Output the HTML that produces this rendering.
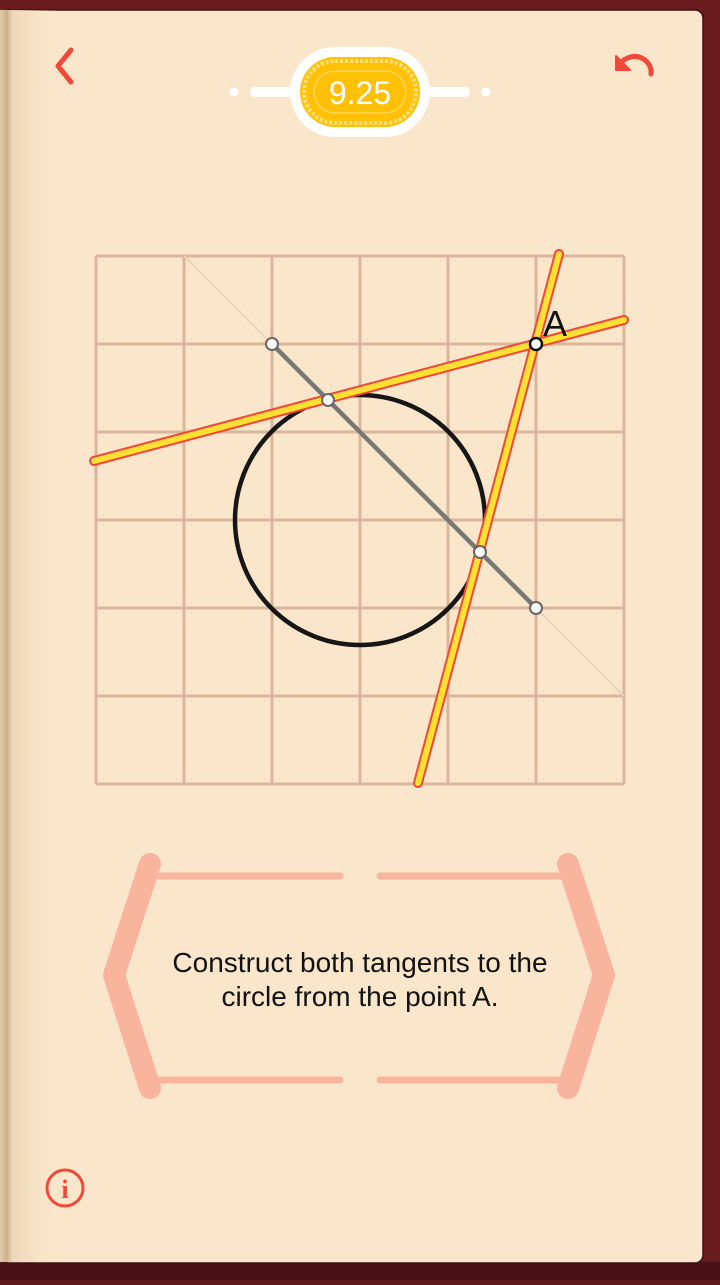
<!DOCTYPE html>
<html><head><meta charset="utf-8"><style>
html,body{margin:0;padding:0;width:720px;height:1280px;overflow:hidden;background:#5e181a;}
#page{position:absolute;left:0;top:0;width:720px;height:1280px;}
</style></head><body>
<div id="page">
<svg width="720" height="1280" viewBox="0 0 720 1280" xmlns="http://www.w3.org/2000/svg">
<defs>
<linearGradient id="bind" x1="0" x2="1" y1="0" y2="0">
<stop offset="0" stop-color="#e2cba8"/><stop offset="0.12" stop-color="#cdb08a"/><stop offset="0.2" stop-color="#ecd6b6"/><stop offset="1" stop-color="#fae6ca" stop-opacity="0"/>
</linearGradient>
</defs>
<rect x="0" y="0" width="720" height="1280" fill="#6a1c1e"/>
<rect x="0" y="1262" width="720" height="18" fill="#4a1214"/>
<rect x="0" y="10" width="703" height="1253" rx="8" fill="#fae6ca" stroke="#3a1010" stroke-width="1.5"/>
<rect x="0" y="10" width="60" height="1252" fill="url(#bind)"/>
<path d="M71 50 L58 66 L71 82" fill="none" stroke="#f0493a" stroke-width="5" stroke-linecap="round" stroke-linejoin="round"/>
<g>
<path d="M621 62 Q634 52 645 60 Q652 66 651 74" fill="none" stroke="#f0493a" stroke-width="5" stroke-linecap="round"/>
<path d="M616 56 L616 70 L630 70 Z" fill="#f0493a" stroke="#f0493a" stroke-width="2" stroke-linejoin="round"/>
</g>
<g>
<circle cx="234" cy="92" r="4.5" fill="#fff"/><circle cx="486" cy="92" r="4.5" fill="#fff"/>
<rect x="250" y="87" width="220" height="10" rx="5" fill="#fff"/>
<rect x="290" y="47" width="140" height="90" rx="45" fill="#fff"/>
<rect x="300" y="57" width="120" height="70" rx="35" fill="#fec107"/>
<rect x="304" y="61" width="112" height="62" rx="31" fill="none" stroke="#ffe07a" stroke-width="4" stroke-dasharray="3 2"/>
<rect x="314" y="71" width="92" height="42" rx="21" fill="none" stroke="#ffe07a" stroke-width="1"/>
<text x="360" y="104" text-anchor="middle" font-family="Liberation Sans, sans-serif" font-size="32" fill="#fff">9.25</text>
</g>
<g id="grid"></g>
<line x1="184" y1="256" x2="624" y2="696" stroke="#ead3b8" stroke-width="2"/>
<circle cx="360" cy="520" r="125" fill="none" stroke="#161616" stroke-width="4.5"/>
<line x1="272" y1="344" x2="536" y2="608" stroke="#777" stroke-width="4.5"/>
<g>
<line x1="94" y1="461" x2="624" y2="320" stroke="#f0483c" stroke-width="10" stroke-linecap="round"/>
<line x1="94" y1="461" x2="624" y2="320" stroke="#ffe033" stroke-width="6" stroke-linecap="round"/>
</g>
<g>
<line x1="418" y1="783" x2="559" y2="254" stroke="#f0483c" stroke-width="10" stroke-linecap="round"/>
<line x1="418" y1="783" x2="559" y2="254" stroke="#ffe033" stroke-width="6" stroke-linecap="round"/>
</g>
<g fill="#fff" stroke="#666" stroke-width="2">
<circle cx="272" cy="344" r="6"/>
<circle cx="536" cy="608" r="6"/>
<circle cx="328" cy="400" r="6"/>
<circle cx="480" cy="552" r="6"/>
</g>
<circle cx="536" cy="344" r="6" fill="#fff" stroke="#111" stroke-width="2.5"/>
<text x="543" y="336" font-family="Liberation Sans, sans-serif" font-size="36" fill="#111">A</text>
<g stroke="#f8b49c" fill="none" stroke-linecap="round">
<path d="M150 864 L114 975 L150 1088" stroke-width="22" stroke-linejoin="round"/>
<path d="M568 864 L604 975 L568 1088" stroke-width="22" stroke-linejoin="round"/>
<line x1="160" y1="876" x2="340" y2="876" stroke-width="7"/>
<line x1="380" y1="876" x2="560" y2="876" stroke-width="7"/>
<line x1="160" y1="1080" x2="340" y2="1080" stroke-width="7"/>
<line x1="380" y1="1080" x2="560" y2="1080" stroke-width="7"/>
</g>
<text x="360" y="972" text-anchor="middle" font-family="Liberation Sans, sans-serif" font-size="28" fill="#111">Construct both tangents to the</text>
<text x="360" y="1006" text-anchor="middle" font-family="Liberation Sans, sans-serif" font-size="28" fill="#111">circle from the point A.</text>
<g>
<circle cx="65" cy="1188" r="18" fill="none" stroke="#f0493a" stroke-width="3"/>
<text x="65" y="1198" text-anchor="middle" font-family="Liberation Serif, serif" font-weight="bold" font-size="26" fill="#f0493a">i</text>
</g>
</svg>
</div>
<script>
const gridXs = [0,1,2,3,4,5,6];
const gridYs = [0,1,2,3,4,5,6];
const x0 = 96, y0 = 256, cell = 88;
const g = document.getElementById('grid');
const ns = 'http://www.w3.org/2000/svg';
gridXs.forEach(function(i){
  const l = document.createElementNS(ns,'line');
  l.setAttribute('x1', x0 + i*cell); l.setAttribute('x2', x0 + i*cell);
  l.setAttribute('y1', y0); l.setAttribute('y2', y0 + 6*cell);
  l.setAttribute('stroke','#d8b59b'); l.setAttribute('stroke-width','3');
  
  
  g.appendChild(l);
});
gridYs.forEach(function(i){
  const l = document.createElementNS(ns,'line');
  l.setAttribute('y1', y0 + i*cell); l.setAttribute('y2', y0 + i*cell);
  l.setAttribute('x1', x0); l.setAttribute('x2', x0 + 6*cell);
  l.setAttribute('stroke','#d8b59b'); l.setAttribute('stroke-width','3');
  
  
  g.appendChild(l);
});
</script>
</body></html>
